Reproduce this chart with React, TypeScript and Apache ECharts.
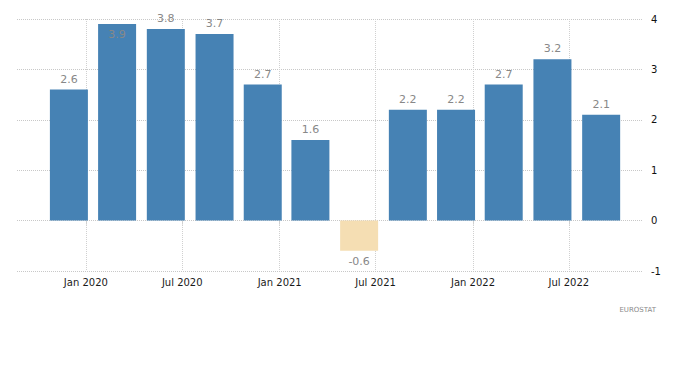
import React, { useEffect, useRef } from 'react';
import * as echarts from 'echarts';

// Quarterly values (bars), dated by the position they occupy on the time axis
const barDates = [
  '2019-11-30', '2020-02-29', '2020-05-31', '2020-08-31',
  '2020-11-30', '2021-02-28', '2021-05-31', '2021-08-31',
  '2021-11-30', '2022-02-28', '2022-05-31', '2022-08-31',
];
const barValues = [2.6, 3.9, 3.8, 3.7, 2.7, 1.6, -0.6, 2.2, 2.2, 2.7, 3.2, 2.1];

// X tick positions and labels
const tickDates = ['2020-01-01', '2020-07-01', '2021-01-01', '2021-07-01', '2022-01-01', '2022-07-01'];
const tickLabels = ['Jan 2020', 'Jul 2020', 'Jan 2021', 'Jul 2021', 'Jan 2022', 'Jul 2022'];

// Axis range
const xMinDate = '2019-08-24';
const xMaxDate = '2022-11-18';
const yMin = -1;
const yMax = 4;
const yInterval = 1;

const sourceText = 'EUROSTAT';

const POS_COLOR = '#4682b4';
const NEG_COLOR = '#f5deb3';

// days since epoch (UTC), used as the numeric x value
function dayNum(s: string): number {
  const [y, m, d] = s.split('-').map(Number);
  return Date.UTC(y, m - 1, d) / 86400000;
}

export default function App() {
  const ref = useRef<HTMLDivElement>(null);

  useEffect(() => {
    document.body.style.margin = '0';
    if (!ref.current) return;
    const chart = echarts.init(ref.current, undefined, { renderer: 'svg' });
    const tickNums = tickDates.map(dayNum);
    const maxIdx = barValues.indexOf(Math.max(...barValues));

    const option: any = {
      animation: false,
      backgroundColor: '#ffffff',
      grid: { left: 17, right: 57, top: 19, bottom: 99, containLabel: false },
      xAxis: {
        type: 'value',
        min: dayNum(xMinDate),
        max: dayNum(xMaxDate),
        axisLine: { show: false },
        axisTick: {
          show: true,
          length: 4,
          customValues: tickNums,
          lineStyle: { color: '#d0d0d0' },
        },
        axisLabel: {
          customValues: tickNums,
          formatter: (v: number) => {
            const i = tickNums.findIndex((t) => Math.abs(t - v) < 0.5);
            return i >= 0 ? tickLabels[i] : '';
          },
          color: '#1a1a1a',
          fontFamily: 'DejaVu Sans',
          fontSize: 10,
          margin: 6,
          showMinLabel: true,
          showMaxLabel: true,
        },
        splitLine: {
          show: true,
          lineStyle: { color: '#d0d0d0', type: 'dotted', width: 1 },
        },
      },
      yAxis: {
        type: 'value',
        position: 'right',
        min: yMin,
        max: yMax,
        interval: yInterval,
        axisLine: { show: false },
        axisTick: { show: false },
        axisLabel: {
          color: '#111',
          fontFamily: 'DejaVu Sans',
          fontSize: 10,
          margin: 8,
        },
        splitLine: {
          show: true,
          lineStyle: { color: '#c8c8c8', type: 'dotted', width: 1 },
        },
      },
      series: [
        {
          type: 'bar',
          barWidth: 38,
          data: barValues.map((v, i) => {
            const item: any = {
              value: [dayNum(barDates[i]), v],
              itemStyle: { color: v < 0 ? NEG_COLOR : POS_COLOR },
            };
            if (v < 0) item.label = { position: 'bottom' };
            if (i === maxIdx) item.label = { position: 'insideTop' };
            return item;
          }),
          label: {
            show: true,
            position: 'top',
            distance: 5,
            color: '#888888',
            fontFamily: 'DejaVu Sans',
            fontSize: 11,
            formatter: (p: any) => String(p.value[1]),
          },
        },
      ],
      graphic: [
        {
          type: 'text',
          right: 44,
          top: 306,
          style: {
            text: sourceText,
            fill: '#8a8a8a',
            font: '7px "DejaVu Sans"',
          },
        },
      ],
    };

    chart.setOption(option);
    return () => chart.dispose();
  }, []);

  return <div ref={ref} style={{ width: 700, height: 370 }} />;
}
